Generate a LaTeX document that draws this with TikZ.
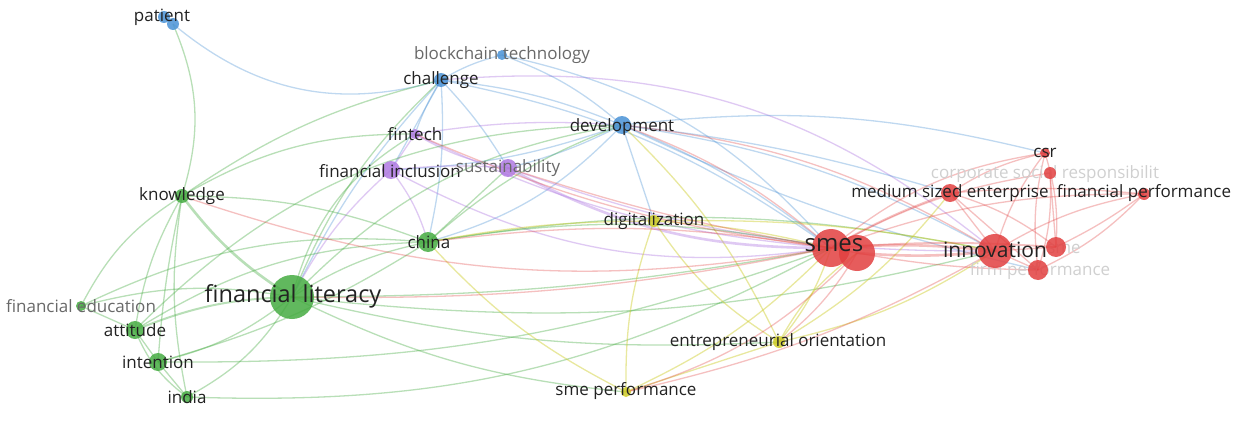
\documentclass[tikz,border=0pt]{standalone}
\usepackage{fontspec}
\setmainfont{Open Sans}
\usetikzlibrary{backgrounds}
\definecolor{cR}{RGB}{226,64,64}
\definecolor{cG}{RGB}{70,172,66}
\definecolor{cB}{RGB}{74,146,214}
\definecolor{cP}{RGB}{176,122,226}
\definecolor{cY}{RGB}{206,204,40}
\definecolor{txt}{RGB}{34,34,34}
\definecolor{txtg}{RGB}{105,105,105}
\definecolor{txtf}{RGB}{208,208,208}
\tikzset{
  dotR/.style={circle,inner sep=0pt,fill=cR,fill opacity=0.85},
  dotG/.style={circle,inner sep=0pt,fill=cG,fill opacity=0.85},
  dotB/.style={circle,inner sep=0pt,fill=cB,fill opacity=0.85},
  dotP/.style={circle,inner sep=0pt,fill=cP,fill opacity=0.85},
  dotY/.style={circle,inner sep=0pt,fill=cY,fill opacity=0.85},
  lb/.style={text=txt,inner sep=0pt,font=\fontsize{17}{18}\selectfont},
  lbg/.style={lb,text=txtg},
  lbf/.style={lb,text=txtf},
  lbbig/.style={text=txt,inner sep=0pt,font=\fontsize{24}{26}\selectfont},
  eR/.style={draw=cR,draw opacity=0.33,line width=1.3pt},
  eG/.style={draw=cG,draw opacity=0.38,line width=1.3pt},
  eB/.style={draw=cB,draw opacity=0.35,line width=1.3pt},
  eP/.style={draw=cP,draw opacity=0.4,line width=1.3pt},
  eY/.style={draw=cY,draw opacity=0.45,line width=1.3pt},
  thk/.style={line width=2.6pt},
}
\begin{document}
\begin{tikzpicture}[x=1pt,y=-1pt]
\useasboundingbox (0,0) rectangle (1237,428);
% circles
\node[dotB,minimum size=12] (patient) at (164,17) {};
\node[dotB,minimum size=12] (patientb) at (173,24) {};
\node[dotB,minimum size=10] (blk) at (502,55) {};
\node[dotB,minimum size=14] (chal) at (441,80) {};
\node[dotB,minimum size=18] (dev) at (622,125) {};
\node[dotP,minimum size=10] (fin) at (415,134) {};
\node[dotP,minimum size=18] (finc) at (391,170) {};
\node[dotP,minimum size=18] (sus) at (508,168) {};
\node[dotG,minimum size=14] (know) at (182,196) {};
\node[dotG,minimum size=20] (china) at (428,242) {};
\node[dotY,minimum size=12] (dig) at (654,221) {};
\node[dotR,minimum size=38] (smes) at (831,248) {};
\node[dotR,minimum size=36] (smesb) at (857,253) {};
\node[dotR,minimum size=34] (inno) at (995,251) {};
\node[dotR,minimum size=20] (sme) at (1056,247) {};
\node[dotR,minimum size=20] (firm) at (1038,270) {};
\node[dotR,minimum size=10] (csr) at (1045,153) {};
\node[dotR,minimum size=12] (corp) at (1050,173) {};
\node[dotR,minimum size=18] (med) at (950,193) {};
\node[dotR,minimum size=12] (finp) at (1144,194) {};
\node[dotG,minimum size=44] (fl) at (292,297) {};
\node[dotG,minimum size=10] (fed) at (81,306) {};
\node[dotG,minimum size=18] (att) at (135,330) {};
\node[dotG,minimum size=18] (int) at (158,362) {};
\node[dotG,minimum size=12] (india) at (187,397) {};
\node[dotY,minimum size=12] (eo) at (779,342) {};
\node[dotY,minimum size=10] (smep) at (626,392) {};
% edges
\begin{pgfonlayer}{background}
\fill[white] (0,0) rectangle (1237,428);
% blue
\draw[eB] (patientb.center) to[bend right=28] (chal.center);
\draw[eG] (patientb.center) to[bend left=20] (know.center);
\draw[eB] (chal.center) to[bend left=8] (blk.center);
\draw[eB] (chal.center) to[bend left=8] (dev.center);
\draw[eB] (chal.center) to[bend right=6] (fin.center);
\draw[eB] (chal.center) to (finc.center);
\draw[eB] (chal.center) to[bend left=6] (sus.center);
\draw[eB] (chal.center) to[bend left=8] (china.center);
\draw[eB] (chal.center) to[bend left=12] (smes.center);
\draw[eP] (chal.center) to[bend left=22] (inno.center);
\draw[eB] (chal.center) to[bend right=8] (fl.center);
\draw[eB] (blk.center) to[bend left=10] (dev.center);
\draw[eB] (blk.center) to[bend left=18] (smes.center);
\draw[eB] (dev.center) to[bend left=8] (smes.center);
\draw[eB] (dev.center) to[bend left=10] (inno.center);
\draw[eB] (dev.center) to[bend left=5] (med.center);
\draw[eB] (dev.center) to[bend left=15] (china.center);
\draw[eB] (dev.center) to (dig.center);
\draw[eY] (dev.center) to[bend left=10] (eo.center);
\draw[eB] (dev.center) to[bend left=8] (finc.center);
\draw[eB] (dev.center) to[bend left=10] (csr.center);
\draw[eB] (dev.center) to[bend left=6] (sus.center);
\draw[eB] (dev.center) to[bend right=6] (firm.center);
% purple
\draw[eP,thk] (sus.center) to[bend right=14] (smes.center);
\draw[eP] (finc.center) to (fin.center);
\draw[eP] (finc.center) to[bend left=5] (sus.center);
\draw[eP] (finc.center) to[bend right=10] (fl.center);
\draw[eP] (finc.center) to[bend left=10] (china.center);
\draw[eP] (fin.center) to[bend right=10] (sus.center);
\draw[eP] (fin.center) to[bend right=10] (smes.center);
\draw[eP] (sus.center) to[bend right=10] (inno.center);
\draw[eP] (finc.center) to[bend right=18] (smes.center);
\draw[eP] (fin.center) to[bend left=6] (dev.center);
% green
\draw[eG,thk] (fl.center) to[bend left=10] (know.center);
\draw[eG,line width=2pt] (fl.center) to[bend right=10] (att.center);
\draw[eG] (fl.center) to[bend left=12] (int.center);
\draw[eG] (fl.center) to[bend left=15] (india.center);
\draw[eG] (fl.center) to[bend right=12] (fed.center);
\draw[eG] (fl.center) to[bend left=10] (china.center);
\draw[eG] (fl.center) to[bend right=5] (smes.center);
\draw[eG] (fl.center) to[bend right=10] (inno.center);
\draw[eG] (fl.center) to[bend left=18] (dev.center);
\draw[eG] (fl.center) to[bend left=12] (chal.center);
\draw[eG] (fl.center) to[bend right=10] (smep.center);
\draw[eG] (fl.center) to[bend right=8] (eo.center);
\draw[eG] (fl.center) to[bend left=22] (fin.center);
\draw[eG] (know.center) to[bend right=10] (att.center);
\draw[eG] (know.center) to[bend right=4] (int.center);
\draw[eG] (know.center) to[bend right=15] (fed.center);
\draw[eG] (know.center) to[bend left=10] (china.center);
\draw[eG] (know.center) to[bend left=10] (chal.center);
\draw[eG] (know.center) to[bend left=15] (fin.center);
\draw[eG] (know.center) to[bend right=10] (india.center);
\draw[eG] (att.center) to (int.center);
\draw[eG] (att.center) to[bend right=15] (india.center);
\draw[eG] (int.center) to (india.center);
\draw[eG] (fed.center) to (att.center);
\draw[eG] (fed.center) to[bend left=15] (china.center);
\draw[eG] (att.center) to[bend left=15] (china.center);
\draw[eG] (att.center) to[bend left=22] (dev.center);
\draw[eG] (int.center) to[bend right=8] (china.center);
\draw[eG] (china.center) to[bend left=10] (smes.center);
\draw[eG] (china.center) to[bend left=10] (inno.center);
\draw[eG] (china.center) to[bend left=10] (dev.center);
\draw[eG] (china.center) to (sus.center);
\draw[eG] (india.center) to[bend right=15] (smes.center);
\draw[eG] (int.center) to[bend right=10] (smes.center);
% yellow
\draw[eY] (dig.center) to[bend left=5] (smes.center);
\draw[eY] (dig.center) to[bend right=12] (eo.center);
\draw[eY] (dig.center) to[bend right=10] (smep.center);
\draw[eY] (eo.center) to[bend right=10] (smes.center);
\draw[eY] (eo.center) to[bend left=12] (smesb.center);
\draw[eY] (eo.center) to[bend right=10] (inno.center);
\draw[eY] (eo.center) to[bend right=10] (med.center);
\draw[eY] (smep.center) to[bend right=10] (smes.center);
\draw[eY] (smep.center) to (eo.center);
\draw[eY] (dig.center) to[bend left=6] (inno.center);
\draw[eY] (dig.center) to[bend right=5] (china.center);
\draw[eY] (smep.center) to[bend left=10] (china.center);
% red
\draw[eR,thk] (smes.center) to[bend left=5] (inno.center);
\draw[eR,thk] (smesb.center) to[bend right=5] (inno.center);
\draw[eR,line width=1.8pt] (smes.center) to[bend left=5] (med.center);
\draw[eR] (smes.center) to[bend left=15] (csr.center);
\draw[eR] (smes.center) to[bend left=10] (corp.center);
\draw[eR] (smes.center) to[bend left=10] (finp.center);
\draw[eR,line width=1.8pt] (smes.center) to[bend left=4] (sme.center);
\draw[eR] (smes.center) to[bend right=5] (firm.center);
\draw[eR] (inno.center) to (med.center);
\draw[eR] (inno.center) to (sme.center);
\draw[eR] (inno.center) to (firm.center);
\draw[eR] (inno.center) to[bend left=10] (csr.center);
\draw[eR] (inno.center) to[bend left=10] (finp.center);
\draw[eR] (med.center) to[bend left=10] (csr.center);
\draw[eR] (med.center) to[bend left=5] (finp.center);
\draw[eR] (med.center) to[bend left=10] (sme.center);
\draw[eR] (med.center) to (firm.center);
\draw[eR] (csr.center) to[bend left=10] (sme.center);
\draw[eR] (csr.center) to[bend right=10] (firm.center);
\draw[eR] (corp.center) to (sme.center);
\draw[eR] (corp.center) to[bend left=10] (firm.center);
\draw[eR] (finp.center) to[bend left=5] (sme.center);
\draw[eR] (finp.center) to[bend left=10] (firm.center);
\draw[eR] (smes.center) to[bend right=10] (dev.center);
\draw[eR] (smes.center) to[bend right=8] (china.center);
\draw[eR] (smes.center) to[bend left=6] (fl.center);
\draw[eR] (smes.center) to[bend left=4] (sus.center);
\draw[eR] (smes.center) to[bend left=8] (fin.center);
\draw[eR] (smes.center) to[bend left=14] (know.center);
\draw[eR] (smesb.center) to[bend left=10] (eo.center);
\draw[eR] (smesb.center) to[bend left=14] (smep.center);
\draw[eR] (inno.center) to[bend right=12] (dev.center);
\draw[eR] (inno.center) to[bend left=8] (smep.center);
% faint labels, behind the circles
\node[lbf] (corpL) at (1045,174) {corporate social responsibilit};
\node[lbf] (firmL) at (1040,271) {firm performance};
\node[lbf] (smeL) at (1064,249) {sme};
\end{pgfonlayer}
% labels
\node[lb] (patientL) at (162,17) {patient};
\node[lbg] (blkL) at (502,55) {blockchain technology};
\node[lb] (chalL) at (441,80) {challenge};
\node[lb] (devL) at (622,127) {development};
\node[lb] (finL) at (415,134) {fintech};
\node[lb] (fincL) at (390,171) {financial inclusion};
\node[lbg] (susL) at (508,168) {sustainability};
\node[lb] (knowL) at (182,196) {knowledge};
\node[lb] (chinaL) at (429,242) {china};
\node[lb] (digL) at (654,221) {digitalization};
\node[lb] (csrL) at (1045,153) {csr};
\node[lb] (medL) at (950,193) {medium sized enterprise};
\node[lb] (finpL) at (1144,193) {financial performance};
\node[lbbig] (smesL) at (834,245) {smes};
\node[lbbig,font=\fontsize{21}{22}\selectfont] (innoL) at (995,250) {innovation};
\node[lbbig,font=\fontsize{23.5}{24}\selectfont] (flL) at (293,296) {financial literacy};
\node[lbg] (fedL) at (81,306) {financial education};
\node[lb] (attL) at (135,330) {attitude};
\node[lb] (intL) at (158,362) {intention};
\node[lb] (indiaL) at (187,397) {india};
\node[lb] (eoL) at (778,342) {entrepreneurial orientation};
\node[lb] (smepL) at (626,391) {sme performance};
\end{tikzpicture}
\end{document}
